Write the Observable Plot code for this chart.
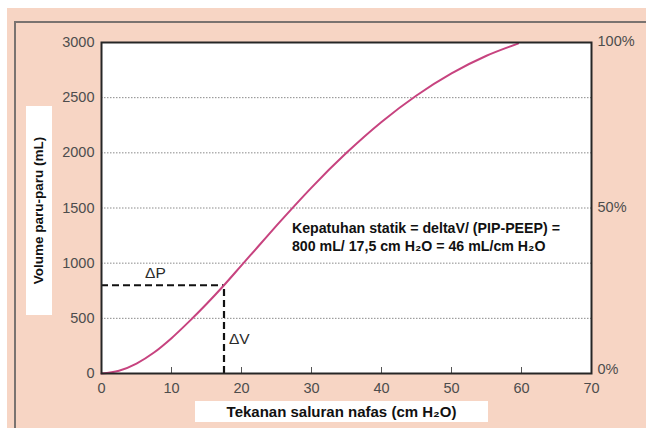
<!DOCTYPE html>
<html>
<head>
<meta charset="utf-8">
<script src="https://cdn.jsdelivr.net/npm/d3@7"></script>
<script src="https://cdn.jsdelivr.net/npm/@observablehq/plot@0.6"></script>
<style>
  html, body { margin: 0; padding: 0; background: #ffffff; }
  #wrap { position: relative; width: 646px; height: 428px; overflow: hidden; background: #ffffff; font-family: "Liberation Sans", Arial, sans-serif; }
  #peach { position: absolute; left: 7px; top: 8px; right: 0; bottom: 0; background: #f7d5c4; }
  #border { position: absolute; left: 14px; top: 21px; width: 640px; height: 420px; border: 2px solid #7a7370; box-sizing: border-box; }
  #chart { position: absolute; left: 0; top: 0; }
  .box { position: absolute; background: #ffffff; color: #111; font-weight: bold; display: flex; align-items: center; justify-content: center; white-space: nowrap; }
  #ytitle { left: 26px; top: 106px; width: 26px; height: 209px; font-size: 13.5px; }
  #ytitle span { transform: rotate(-90deg); display: inline-block; }
  #xtitle { left: 195px; top: 401px; width: 293px; height: 21px; font-size: 15px; }
</style>
</head>
<body>
<div id="wrap">
  <div id="peach"></div>
  <div id="border"></div>
  <div id="chart"></div>
  <div class="box" id="ytitle"><span>Volume paru-paru (mL)</span></div>
  <div class="box" id="xtitle">Tekanan saluran nafas (cm H₂O)</div>
</div>
<script>
// Pressure–volume curve (cm H2O, mL)
const pressure = [0, 2.5, 5, 7.5, 10, 12.5, 15, 17.5, 20, 22.5, 25, 27.5, 30, 35, 40, 45, 50, 55, 59.5];
const volume   = [0, 25, 90, 190, 320, 470, 630, 800, 980, 1160, 1340, 1515, 1685, 2000, 2280, 2520, 2720, 2880, 2990];

const xTicks = [0, 10, 20, 30, 40, 50, 60, 70];
const yTicks = [0, 500, 1000, 1500, 2000, 2500, 3000];
const gridValues = [500, 1000, 1500, 2000, 2500];
const pctTicks = [0, 50, 100];
const pctLabels = ["0%", "50%", "100%"];

const deltaPressure = [17.5];
const deltaVolume = [800];

const labelDP = [{x: 7.7, y: 915, text: "ΔP"}];
const labelDV = [{x: 18.2, y: 310, text: "ΔV"}];
const noteLines = [
  {x: 27.2, y: 1318, text: "Kepatuhan statik = deltaV/ (PIP-PEEP) ="},
  {x: 27.2, y: 1155, text: "800 mL/ 17,5 cm H₂O = 46 mL/cm H₂O"}
];

const curve = pressure.map((p, i) => ({p, v: volume[i]}));
const dashX = deltaPressure.map((p, i) => ({p, v: deltaVolume[i]}));

const yMax = 3000;
const pctToVol = p => p / 100 * yMax;
const pctFmt = v => pctLabels[pctTicks.indexOf(Math.round(v / yMax * 100))];

const chart = Plot.plot({
  width: 646,
  height: 428,
  marginLeft: 101,
  marginRight: 55,
  marginTop: 42,
  marginBottom: 55,
  style: {background: "transparent", fontFamily: "Liberation Sans, Arial, sans-serif", overflow: "visible"},
  x: {domain: [0, 70]},
  y: {domain: [0, yMax]},
  marks: [
    Plot.frame({fill: "#ffffff"}),
    Plot.ruleY(gridValues, {stroke: "#8a8a8a", strokeWidth: 1, strokeDasharray: "1.5,1.5"}),
    Plot.ruleX(xTicks.slice(1, -1), {stroke: "#555", strokeWidth: 1, insetTop: 325}),
    Plot.ruleX(dashX, {x: "p", y1: 0, y2: "v", stroke: "#111", strokeWidth: 2.2, strokeDasharray: "7,4"}),
    Plot.ruleY(dashX, {y: "v", x1: 0, x2: "p", stroke: "#111", strokeWidth: 2.2, strokeDasharray: "7,4"}),
    Plot.line(curve, {x: "p", y: "v", curve: "monotone-x", stroke: "#c7437f", strokeWidth: 2}),
    Plot.frame({stroke: "#262626", strokeWidth: 2}),
    Plot.text(labelDP, {x: "x", y: "y", text: "text", textAnchor: "middle", fontSize: 15.5, fill: "#2a2a2a"}),
    Plot.text(labelDV, {x: "x", y: "y", text: "text", textAnchor: "start", fontSize: 15.5, fill: "#2a2a2a"}),
    Plot.text(noteLines, {x: "x", y: "y", text: "text", textAnchor: "start", fontSize: 14.2, fontWeight: "bold", fill: "#111"}),
    Plot.axisX({ticks: xTicks, tickSize: 0, tickPadding: 9, fontSize: 14.5, fill: "#4d4d4d", label: null, tickFormat: d => String(d)}),
    Plot.axisY({anchor: "left", ticks: yTicks, tickSize: 0, tickPadding: 7, fontSize: 14.5, fill: "#4d4d4d", label: null, tickFormat: d => String(d)}),
    Plot.axisY({anchor: "right", ticks: pctTicks.slice(1).map(pctToVol), tickSize: 0, tickPadding: 6, fontSize: 14.5, fill: "#4d4d4d", label: null, dy: -1, tickFormat: pctFmt}),
    Plot.axisY({anchor: "right", ticks: pctTicks.slice(0, 1).map(pctToVol), tickSize: 0, tickPadding: 6, fontSize: 14.5, fill: "#4d4d4d", label: null, dy: -4, tickFormat: pctFmt})
  ]
});
document.getElementById("chart").appendChild(chart);
</script>
</body>
</html>
